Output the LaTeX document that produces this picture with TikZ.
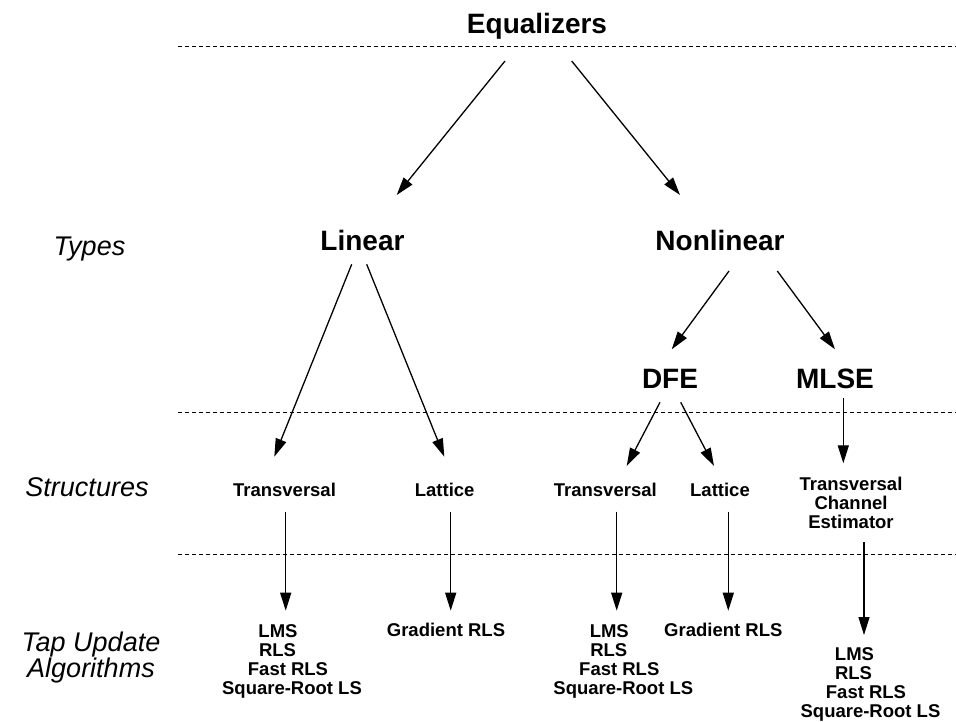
\documentclass[tikz,border=0pt]{standalone}
\usepackage{fontspec}
\setmainfont{Liberation Sans}
\usetikzlibrary{arrows.meta}
\begin{document}
\begin{tikzpicture}[x=1pt,y=-1pt,
  big/.style={font=\fontsize{28}{30}\selectfont\bfseries, inner sep=0pt, anchor=base},
  lbl/.style={font=\fontsize{27}{24}\selectfont\itshape, inner sep=0pt, align=center},
  small/.style={font=\fontsize{18.5}{19}\selectfont\bfseries, inner sep=0pt, align=center},
  arr/.style={line width=1.3pt, -{Triangle[length=18pt,width=11pt]}},
  sep/.style={line width=1.2pt, dash pattern=on 4pt off 3pt}]
\useasboundingbox (0,0) rectangle (956,722);

% separators
\draw[sep] (178,46.7) -- (956,46.7);
\draw[sep] (178,412.3) -- (956,412.3);
\draw[sep] (178,554.3) -- (956,554.3);

% row labels
\node[lbl, anchor=base] (types) at (89.5,256) {Types};
\node[lbl, anchor=base] (structs) at (87,496) {Structures};
\node[lbl, anchor=north] (tap) at (91,632) {Tap Update\\Algorithms};

% main nodes
\node[big] (eq) at (537,33.3) {Equalizers};
\node[big] (lin) at (362.5,250.7) {Linear};
\node[big] (nl) at (720,250.7) {Nonlinear};
\node[big] (dfe) at (670,388.3) {DFE};
\node[big] (mlse) at (835,388.3) {MLSE};

% structures
\node[small, anchor=base] (tr1) at (284.5,496) {Transversal};
\node[small, anchor=base] (la1) at (444.7,496) {Lattice};
\node[small, anchor=base] (tr2) at (605.3,496) {Transversal};
\node[small, anchor=base] (la2) at (720,496) {Lattice};
\node[small, anchor=north] (tce) at (851,476.7) {Transversal\\Channel\\Estimator};

% algorithms
\node[small, anchor=north] (alg1) at (292,624) {LMS\kern28pt\\RLS\kern29pt\\Fast RLS\kern8pt\\Square-Root LS};
\node[small, anchor=base] (gr1) at (446,636.7) {Gradient RLS};
\node[small, anchor=north] (alg2) at (623.3,624) {LMS\kern28pt\\RLS\kern29pt\\Fast RLS\kern8pt\\Square-Root LS};
\node[small, anchor=base] (gr2) at (723.3,636.7) {Gradient RLS};
\node[small, anchor=north] (alg3) at (870.5,647) {LMS\kern32pt\\RLS\kern34pt\\Fast RLS\kern9pt\\Square-Root LS};

% connectors
\draw[arr] ([shift={(-32,27.7)}]eq.base) -- ([shift={(34.2,-55.7)}]lin.base);
\draw[arr] ([shift={(34.7,27.7)}]eq.base) -- ([shift={(-40,-55.7)}]nl.base);
\draw[arr] ([shift={(-10.8,13.6)}]lin.base) -- ([shift={(-10.2,-39.3)}]tr1.base);
\draw[arr] ([shift={(4.2,13.6)}]lin.base) -- ([shift={(-0.4,-39.3)}]la1.base);
\draw[arr] ([shift={(9,20.3)}]nl.base) -- ([shift={(1.7,-39)}]dfe.base);
\draw[arr] ([shift={(57.3,20.3)}]nl.base) -- ([shift={(0,-39)}]mlse.base);
\draw[arr] ([shift={(-10,14)}]dfe.base) -- ([shift={(21.4,-30)}]tr2.base);
\draw[arr] ([shift={(10.7,14)}]dfe.base) -- ([shift={(-6,-30)}]la2.base);
\draw[arr] ([shift={(8.3,10)}]mlse.base) -- ([shift={(-7.7,-13.4)}]tce.north);
\draw[arr] ([shift={(1.2,15.7)}]tr1.base) -- ([shift={(-6.3,-13.3)}]alg1.north);
\draw[arr] ([shift={(6,15.7)}]la1.base) -- ([shift={(4.7,-26)}]gr1.base);
\draw[arr] ([shift={(11.4,15.7)}]tr2.base) -- ([shift={(-6.6,-13.3)}]alg2.north);
\draw[arr] ([shift={(8.3,15.7)}]la2.base) -- ([shift={(5,-26)}]gr2.base);
\draw[arr] ([shift={(13,13.3)}]tce.south) -- ([shift={(-6.5,-12)}]alg3.north);
\end{tikzpicture}
\end{document}
